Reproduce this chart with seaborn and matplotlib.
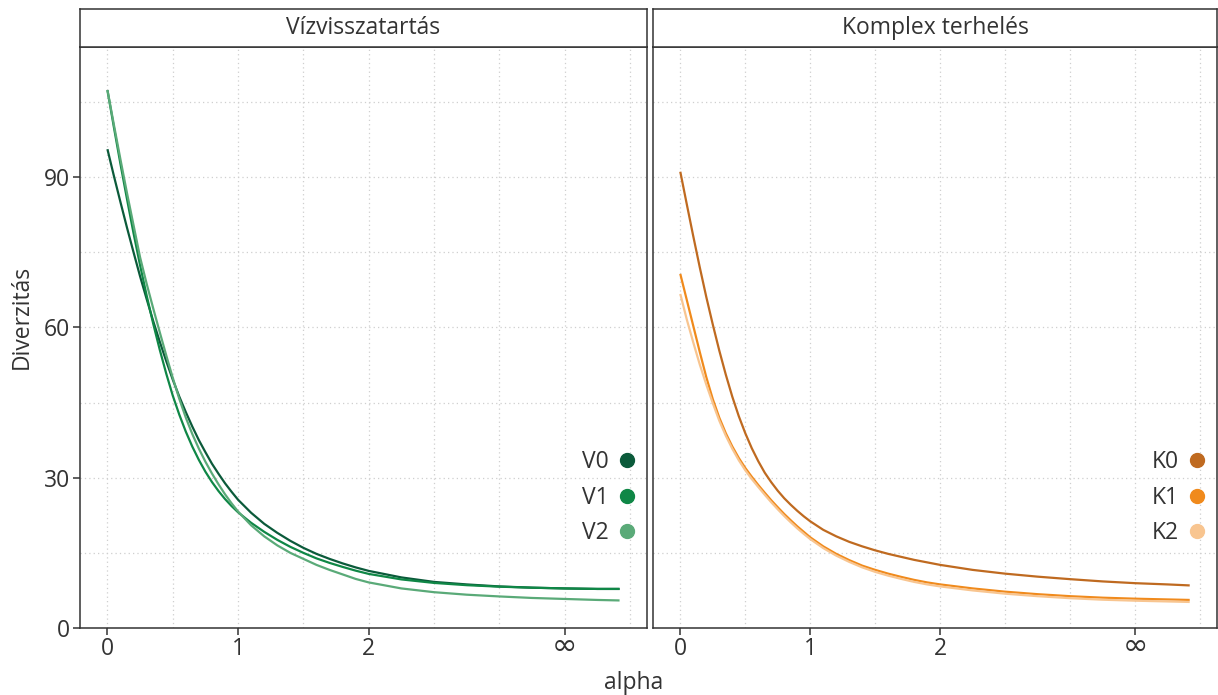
import numpy as np
import pandas as pd
import matplotlib
matplotlib.use("Agg")
import matplotlib.pyplot as plt
from matplotlib.lines import Line2D
import seaborn as sns

# Diversity profiles (Hill numbers) along the order alpha
alpha = [0, 0.05, 0.1, 0.15, 0.2, 0.25, 0.3, 0.35, 0.4, 0.45, 0.5, 0.55, 0.6,
         0.65, 0.7, 0.75, 0.8, 0.85, 0.9, 0.95, 1.0, 1.1, 1.2, 1.3, 1.4, 1.5,
         1.6, 1.7, 1.8, 1.9, 2.0, 2.25, 2.5, 2.75, 3.0, 3.25, 3.5, 3.75, 3.92]

V0 = [95.6, 90.2, 85.0, 79.9, 75.0, 70.2, 65.7, 61.3, 57.2, 53.3, 49.6, 46.2,
      43.1, 40.2, 37.5, 35.1, 32.8, 30.8, 28.9, 27.2, 25.6, 23.0, 20.8, 19.0,
      17.4, 16.0, 14.8, 13.8, 12.9, 12.1, 11.4, 10.1, 9.2, 8.7, 8.3, 8.05, 7.9,
      7.8, 7.8]
V1 = [107.4, 99.9, 92.6, 85.6, 78.8, 72.4, 66.4, 60.8, 55.6, 50.8, 46.4, 42.6,
      39.2, 36.2, 33.55, 31.2, 29.15, 27.35, 25.75, 24.35, 23.1, 21.0, 19.2,
      17.6, 16.2, 15.0, 13.9, 13.0, 12.2, 11.45, 10.8, 9.7, 9.0, 8.55, 8.25,
      8.05, 7.9, 7.8, 7.8]
V2 = [107.4, 100.4, 93.5, 86.8, 80.4, 74.0, 68.75, 63.85, 59.1, 54.45, 49.95,
      45.75, 42.0, 38.7, 35.8, 33.2, 30.85, 28.7, 26.7, 24.9, 23.25, 20.5, 18.3,
      16.5, 15.0, 13.8, 12.6, 11.6, 10.7, 9.8, 9.1, 7.9, 7.15, 6.65, 6.3, 6.0,
      5.8, 5.6, 5.5]

K0 = [91.1, 84.6, 78.2, 72.0, 66.1, 60.6, 55.4, 50.6, 46.2, 42.3, 38.9, 35.9,
      33.3, 31.0, 29.1, 27.4, 25.9, 24.6, 23.4, 22.3, 21.3, 19.6, 18.3, 17.2,
      16.3, 15.5, 14.8, 14.2, 13.6, 13.1, 12.6, 11.6, 10.85, 10.25, 9.75, 9.3,
      8.95, 8.7, 8.5]
K1 = [70.7, 65.5, 60.3, 55.1, 50.1, 45.7, 42.0, 38.9, 36.25, 33.95, 31.95,
      30.2, 28.55, 27.0, 25.5, 24.1, 22.75, 21.5, 20.3, 19.2, 18.1, 16.3, 14.8,
      13.55, 12.45, 11.6, 10.85, 10.2, 9.6, 9.1, 8.7, 7.9, 7.25, 6.75, 6.35,
      6.05, 5.85, 5.7, 5.6]
K2 = [66.7, 61.6, 57.0, 52.6, 48.6, 44.9, 41.4, 38.4, 35.8, 33.5, 31.5, 29.75,
      28.15, 26.6, 25.1, 23.7, 22.35, 21.1, 19.9, 18.8, 17.75, 15.95, 14.45,
      13.2, 12.1, 11.2, 10.45, 9.8, 9.2, 8.7, 8.3, 7.5, 6.85, 6.35, 5.95, 5.65,
      5.45, 5.3, 5.2]

panels = ["Vízvisszatartás", "Komplex terhelés"]
panel_series = {
    "Vízvisszatartás": {"V0": V0, "V1": V1, "V2": V2},
    "Komplex terhelés": {"K0": K0, "K1": K1, "K2": K2},
}
colors = {
    "V0": "#0b5a3a", "V1": "#0f8746", "V2": "#5aaa78",
    "K0": "#bf6a20", "K1": "#f08a1c", "K2": "#f8c590",
}

x_ticks = [0, 1, 2, 3.5]
x_ticklabels = ["0", "1", "2", "∞"]
x_grid = [0, 0.5, 1, 1.5, 2, 2.5, 3, 3.5, 4]
y_ticks = [0, 30, 60, 90]
y_grid = [15, 30, 45, 60, 75, 90, 105]

rows = []
for panel in panels:
    for name, vals in panel_series[panel].items():
        for a, v in zip(alpha, vals):
            rows.append({"panel": panel, "series": name, "alpha": a, "value": v})
df = pd.DataFrame(rows)

sns.set_theme(style="white")
plt.rcParams["font.family"] = ["Open Sans", "DejaVu Sans"]
TXT = "#333333"
EDGE = "#333333"
FS = 16.5

W, H = 1218, 695
fig = plt.figure(figsize=(W / 100, H / 100), dpi=100)

panel_boxes = [(80, 647), (653, 1217)]
top_px, bot_px = 47, 628
strip_top = 9

for i, (panel, (x0, x1)) in enumerate(zip(panels, panel_boxes)):
    ax = fig.add_axes([x0 / W, (H - bot_px) / H, (x1 - x0) / W, (bot_px - top_px) / H])
    sub = df[df["panel"] == panel]
    names = list(panel_series[panel].keys())
    sns.lineplot(data=sub, x="alpha", y="value", hue="series", hue_order=names,
                 palette=[colors[n] for n in names], linewidth=1.6,
                 errorbar=None, legend=False, ax=ax, solid_capstyle="butt",
                 solid_joinstyle="round")

    ax.set_xlim(-0.21, 4.13)
    ax.set_ylim(0, 116)
    for gx in x_grid:
        ax.axvline(gx, color="#cfcfcf", lw=0.9, ls=(0, (1, 2.5)), zorder=0)
    for gy in y_grid:
        ax.axhline(gy, color="#cfcfcf", lw=0.9, ls=(0, (1, 2.5)), zorder=0)

    # the infinity sign is drawn separately so it sits level with the digits
    ax.set_xticks(x_ticks)
    ax.set_xticklabels([t if t != "∞" else "" for t in x_ticklabels])
    for xt, t in zip(x_ticks, x_ticklabels):
        if t == "∞":
            ax.annotate(t, xy=(xt, 0), xycoords=("data", "axes fraction"),
                        xytext=(0, -27), textcoords="offset pixels",
                        ha="center", va="baseline", fontsize=22,
                        family="DejaVu Sans", color=TXT)
    ax.set_yticks(y_ticks)
    ax.tick_params(axis="x", direction="out", length=5, width=1.1, color=EDGE,
                   labelsize=FS, labelcolor=TXT, pad=1.5, bottom=True)
    if i == 0:
        ax.tick_params(axis="y", direction="out", length=5, width=1.1, color=EDGE,
                       labelsize=FS, labelcolor=TXT, pad=2, left=True)
    else:
        ax.tick_params(axis="y", left=False, labelleft=False)
    ax.set_xlabel("")
    ax.set_ylabel("")
    for sp in ax.spines.values():
        sp.set_color(EDGE)
        sp.set_linewidth(1.1)

    handles = [Line2D([], [], marker="o", ls="none", markersize=10,
                      markerfacecolor=colors[n], markeredgecolor=colors[n])
               for n in names]
    leg = ax.legend(handles, names, loc="center right",
                    bbox_to_anchor=(1 - 13 / (x1 - x0), 0.224),
                    frameon=False, markerfirst=False, fontsize=FS,
                    handlelength=0.6, handletextpad=0.5, labelspacing=0.5,
                    borderaxespad=0, borderpad=0)
    for t in leg.get_texts():
        t.set_color(TXT)

    # facet strip
    sax = fig.add_axes([x0 / W, (H - top_px) / H, (x1 - x0) / W, (top_px - strip_top) / H])
    sax.set_xticks([])
    sax.set_yticks([])
    sax.set_facecolor("white")
    for sp in sax.spines.values():
        sp.set_color(EDGE)
        sp.set_linewidth(1.1)
    sax.text(0.5, 0.5, panel, ha="center", va="center", fontsize=FS,
             color=TXT, transform=sax.transAxes)

fig.text(634 / W, 1 - 683 / H, "alpha", ha="center", va="center", fontsize=FS, color=TXT)
fig.text(22 / W, 1 - 317 / H, "Diverzitás", ha="center", va="center", rotation=90,
         fontsize=FS, color=TXT)

fig.savefig("out.png", dpi=100, facecolor="white")
